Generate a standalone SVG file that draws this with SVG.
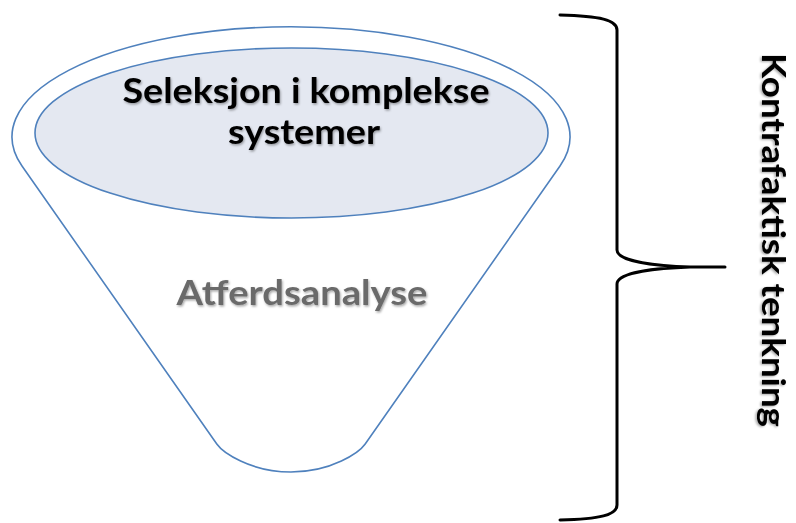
<svg xmlns="http://www.w3.org/2000/svg" width="796" height="523" viewBox="0 0 796 523">
  <defs>
    <filter id="shadow" x="-10%" y="-30%" width="120%" height="160%">
      <feDropShadow dx="1" dy="1.5" stdDeviation="1.2" flood-color="#000" flood-opacity="0.35"/>
    </filter>
  </defs>
  <style>
    .shape { stroke: #4f81bd; stroke-width: 1.6; }
    .lbl { font-family: Lato, "Open Sans", "Liberation Sans", sans-serif; font-weight: bold; font-size: 35px; filter: url(#shadow); }
    .brace { fill: none; stroke: #000; stroke-width: 3; stroke-linejoin: round; stroke-linecap: round; }
  </style>
  <rect width="796" height="523" fill="#fff"/>
  <g id="funnel">
    <path class="shape" fill="#fff" d="M22,166 A279,110 0 1 1 560,166 L365.2,444 C359.6,452 332,472 291,472 C250,472 222.4,452 216.8,444 Z"/>
    <text class="lbl" x="302" y="305" text-anchor="middle" fill="#6b6b6b" textLength="251" lengthAdjust="spacingAndGlyphs">Atferdsanalyse</text>
  </g>
  <g id="selection">
    <ellipse class="shape" cx="291.5" cy="133" rx="256.5" ry="85" fill="#e4e8f1"/>
    <text class="lbl" x="306" y="103" text-anchor="middle" fill="#000" textLength="367" lengthAdjust="spacingAndGlyphs">Seleksjon i komplekse</text>
    <text class="lbl" x="304" y="144" text-anchor="middle" fill="#000" textLength="152" lengthAdjust="spacingAndGlyphs">systemer</text>
  </g>
  <g id="connectors">
    <path class="brace" d="M560,15 C600,16 617,20 617,30 L617,250 C617,262 660,266 690,267 L725,267 M690,267 C660,268 617,272 617,284 L617,505 C617,515 600,519 560,520"/>
  </g>
  <g id="brace-label">
    <text class="lbl" transform="translate(762,53) rotate(90)" x="0" y="0" fill="#000" textLength="374" lengthAdjust="spacingAndGlyphs" style="font-size:33px">Kontrafaktisk tenkning</text>
  </g>
</svg>
